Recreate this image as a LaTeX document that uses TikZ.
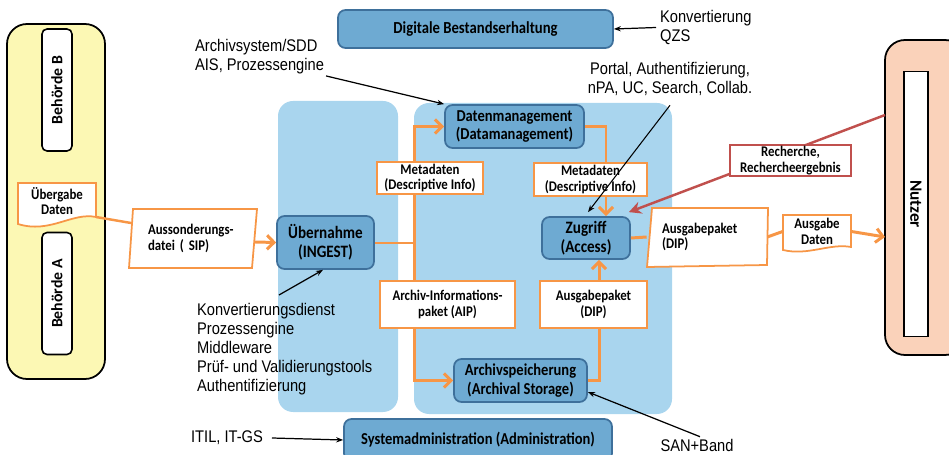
\documentclass[tikz,border=0pt]{standalone}
\usepackage{fontspec}
\setmainfont[FakeStretch=0.87]{Liberation Sans}
\newfontfamily\carlito[FakeStretch=0.87]{Carlito}
\newfontfamily\carlitoup{Carlito}
\usetikzlibrary{arrows.meta}

\definecolor{panelblue}{RGB}{169,213,238}
\definecolor{boxblue}{RGB}{110,170,210}
\definecolor{boxedge}{RGB}{62,112,155}
\definecolor{orangeline}{RGB}{247,150,70}
\definecolor{redline}{RGB}{192,80,77}
\definecolor{agencyyellow}{RGB}{252,248,180}
\definecolor{userpeach}{RGB}{250,210,186}

\begin{document}
\begin{tikzpicture}[x=0.02cm,y=-0.02cm,
  panel/.style={fill=panelblue,rounded corners=0.3cm},
  proc/.style={draw=boxedge,fill=boxblue,line width=1pt,rounded corners=0.15cm,align=center,inner sep=0pt,font=\carlito\bfseries\fontsize{9.5}{10.8}\selectfont},
  lab/.style={draw=orangeline,fill=white,line width=1pt,align=center,inner sep=0pt,font=\carlito\bfseries\fontsize{8.4}{9}\selectfont},
  boxtext/.style={align=left,inner sep=0pt,font=\carlito\bfseries\fontsize{8.4}{9}\selectfont},
  docline/.style={draw=orangeline,fill=white,line width=1pt},
  oline/.style={draw=orangeline,line width=1.7pt},
  flow/.style={oline,-{Straight Barb[length=4pt,width=8pt]}},
  ann/.style={draw=black,line width=0.7pt,-{Stealth[length=4pt,width=3pt]}},
  note/.style={font=\fontsize{9.6}{10.8}\selectfont,align=left,inner sep=1pt},
  agency/.style={draw,fill=white,line width=0.9pt,rounded corners=0.1cm,rotate=90,minimum width=2.44cm,minimum height=0.6cm,inner sep=0pt,font=\carlitoup\bfseries\fontsize{9}{10}\selectfont}
]
\useasboundingbox (0,0) rectangle (949,455);

\fill[panel] (278,101) rectangle (398,412);
\fill[panel] (414,103) rectangle (672,414);

\draw[fill=agencyyellow,line width=1pt,rounded corners=0.4cm] (7,24) rectangle (105,379);
\node[agency] (behB) at (57,90) {Behörde B};
\node[agency] (behA) at (57,293.5) {Behörde A};
\draw[docline] (18,183) -- (96,183) -- (96,217) .. controls (72,212) and (50,234) .. (18,224) -- cycle;
\node[boxtext,align=center] (uebergabe) at (57,201) {Übergabe\\Daten};
\coordinate (ueb-out) at (96,217);

\draw[fill=userpeach,line width=1pt,rounded corners=0.4cm] (885,40) rectangle (965,355);
\node[draw,fill=white,line width=0.8pt,rotate=-90,minimum width=5.3cm,minimum height=0.48cm,inner sep=0pt,font=\carlitoup\bfseries\fontsize{9.8}{11}\selectfont] (nutzer) at (916,204) {Nutzer};
\coordinate (nutzer-in) at (885,237);

\draw[docline] (133,209) -- (257,209) -- (252,268) -- (129,268) -- cycle;
\node[boxtext,text width=1.8cm,inner xsep=0.38cm] (sip) at (193,238.5) {Aussonderungs-\\datei ( SIP)};
\coordinate (sip-in) at (131,223);
\draw[draw=orangeline,line width=1.4pt] (ueb-out) -- (sip-in);

\node[proc,minimum width=1.94cm,minimum height=1.06cm,font=\carlito\bfseries\fontsize{9.9}{11}\selectfont] (uebernahme) at (325.5,242.5) {Übernahme\\(INGEST)};
\node[proc,minimum width=2.78cm,minimum height=0.86cm] (datenm) at (514.5,126.5) {Datenmanagement\\(Datamanagement)};
\node[proc,minimum width=1.76cm,minimum height=0.84cm,font=\carlito\bfseries\fontsize{9.9}{11}\selectfont] (zugriff) at (586,238) {Zugriff\\(Access)};
\node[proc,minimum width=2.66cm,minimum height=0.86cm] (archiv) at (520.5,380.5) {Archivspeicherung\\(Archival Storage)};
\node[proc,minimum width=5.5cm,minimum height=0.76cm,font=\carlito\bfseries\fontsize{9.6}{10}\selectfont] (digital) at (475.5,29) {Digitale Bestandserhaltung};
\node[proc,minimum width=5.36cm,minimum height=0.84cm,font=\carlito\bfseries\fontsize{9.5}{10}\selectfont] (sysadm) at (478,440) {Systemadministration (Administration)};

\coordinate (junc) at (414,243);
\draw[flow] (255,242) -- (uebernahme.west);
\draw[oline] (uebernahme.east |- junc) -- (junc);
\draw[flow] (junc) |- (datenm.west);
\draw[flow] (junc) |- (archiv.west);
\draw[flow] (datenm.east) -| ([xshift=0.4cm]zugriff.north);
\draw[flow] (archiv.east) -| ([xshift=0.26cm]zugriff.south);

\node[lab,minimum width=2.12cm,minimum height=0.64cm] (meta1) at (430,178) {Metadaten\\(Descriptive Info)};
\node[lab,minimum width=2.26cm,minimum height=0.66cm] (meta2) at (590.5,179.5) {Metadaten\\(Descriptive Info)};
\node[lab,minimum width=2.7cm,minimum height=0.94cm] (aip) at (447.5,304.5) {Archiv-Informations-\\paket (AIP)};
\node[lab,minimum width=2.14cm,minimum height=0.94cm] (dipin) at (593.5,304.5) {Ausgabepaket\\(DIP)};

\draw[docline] (652,208) -- (768,208) -- (767,265) -- (647,267) -- cycle;
\node[boxtext,text width=1.8cm,inner xsep=0.3cm] (dipout) at (707,237) {Ausgabepaket\\(DIP)};
\draw[docline] (783,215) -- (851,215) -- (851,247) .. controls (830,243) and (808,256) .. (783,250) -- cycle;
\node[boxtext,align=center,minimum width=1.36cm] (ausgdaten) at (817,231.5) {Ausgabe\\Daten};

\draw[oline] (zugriff.east) -- (dipout.west);
\draw[oline] (dipout.east) -- (ausgdaten.west);
\draw[flow] (ausgdaten.east) -- (nutzer-in);

\coordinate (nutzer-r) at (885,115);
\draw[draw=redline,line width=1.4pt,-{Stealth[length=7pt,width=7pt]}] (nutzer-r) -- ([shift={(-0.04cm,0.08cm)}]zugriff.north east);
\node[draw=redline,fill=white,line width=1pt,minimum width=2.42cm,minimum height=0.62cm,align=center,inner sep=0pt,font=\carlito\bfseries\fontsize{8.4}{9}\selectfont] (recherche) at (790.5,160.5) {Recherche,\\Rechercheergebnis};

\node[note,anchor=west] (archnote) at (193,56.5) {Archivsystem/SDD\\AIS, Prozessengine};
\node[note,anchor=west] (konvnote) at (658,27.5) {Konvertierung\\QZS};
\node[note,align=center] (portal) at (670,79) {Portal, Authentifizierung,\\nPA, UC, Search, Collab.};
\node[note,anchor=north west] (ingnote) at (195,301) {Konvertierungsdienst\\Prozessengine\\Middleware\\Prüf- und Validierungstools\\Authentifizierung};
\node[note] (itil) at (227,438) {ITIL, IT-GS};
\node[note] (san) at (697,445) {SAN+Band};
\coordinate (ing-a) at (279,295);

\draw[ann] (archnote.south east) -- (datenm.north west);
\draw[ann] ([xshift=-0.04cm]konvnote.west) -- (digital.east);
\draw[ann,line width=0.6pt] ([yshift=-0.15cm]portal.south) -- ([shift={(0.04cm,0.08cm)}]zugriff.north);
\draw[ann] (ing-a) -- ([xshift=-0.05cm]uebernahme.south);
\draw[ann] ([xshift=0.14cm]itil.east) -- (sysadm.west);
\draw[ann] ([xshift=0.06cm]san.north) -- ([yshift=-0.23cm]archiv.east);
\end{tikzpicture}
\end{document}
